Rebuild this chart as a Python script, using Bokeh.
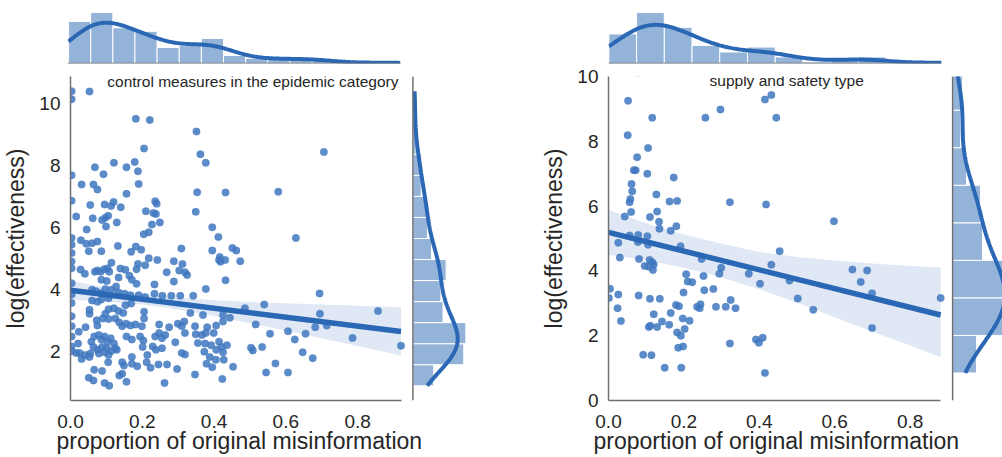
import numpy as np
from bokeh.plotting import figure
from bokeh.layouts import row, column
from bokeh.models import Span, Label, Title, FixedTicker, Range1d, NumeralTickFormatter
from bokeh.embed import file_html
from bokeh.resources import INLINE

# ---------------- data ----------------
left_x = [
    0.003, 0.003, 0.053, 0.182, 0.221, 0.205, 0.068, 0.121, 0.156, 0.179,
    0.188, 0.092, 0.003, 0.031, 0.064, 0.075, 0.190, 0.156, 0.003, 0.055,
    0.095, 0.113, 0.120, 0.140, 0.236, 0.240, 0.210, 0.231, 0.238, 0.016,
    0.062, 0.088, 0.097, 0.105, 0.129, 0.099, 0.227, 0.249, 0.045, 0.204,
    0.218, 0.003,
    0.351, 0.362, 0.377, 0.706, 0.353, 0.432, 0.579, 0.349, 0.395, 0.412, 0.628,
    0.029, 0.044, 0.060, 0.075, 0.051, 0.086, 0.132, 0.169, 0.182, 0.197,
    0.309, 0.218, 0.242, 0.188, 0.184, 0.208, 0.288, 0.312, 0.114, 0.103,
    0.094, 0.084, 0.108, 0.028, 0.040, 0.068, 0.075, 0.139, 0.153, 0.164,
    0.171, 0.086, 0.101, 0.134, 0.184, 0.234, 0.268, 0.288, 0.303, 0.319,
    0.060, 0.071, 0.086, 0.097, 0.114, 0.127, 0.134, 0.151, 0.167, 0.190,
    0.208, 0.234, 0.256, 0.281, 0.306, 0.060, 0.075, 0.086, 0.106, 0.153,
    0.169, 0.053, 0.053, 0.106, 0.121, 0.134, 0.147, 0.097, 0.090, 0.106,
    0.073, 0.075, 0.125, 0.136, 0.144, 0.155, 0.167, 0.181, 0.199, 0.205,
    0.205, 0.247, 0.275, 0.299, 0.310, 0.023, 0.042,
    0.058, 0.066, 0.079, 0.086, 0.095, 0.103, 0.112, 0.121, 0.125, 0.114,
    0.101, 0.088, 0.075, 0.064, 0.055, 0.079, 0.095, 0.106, 0.129, 0.040,
    0.025, 0.016, 0.031, 0.053, 0.021, 0.156, 0.171, 0.194, 0.203, 0.236,
    0.247, 0.255, 0.264, 0.201, 0.229, 0.238, 0.255, 0.292, 0.310, 0.319,
    0.171, 0.214, 0.212, 0.105, 0.144, 0.149, 0.171, 0.186, 0.223, 0.245,
    0.269, 0.297, 0.066, 0.088, 0.136, 0.144, 0.156, 0.051, 0.064, 0.095,
    0.108, 0.262,
    0.003, 0.003, 0.003, 0.003, 0.003, 0.003, 0.003, 0.003, 0.003, 0.003,
    0.003, 0.003,
    0.395, 0.451, 0.462, 0.416, 0.418, 0.431, 0.414, 0.473, 0.325, 0.432,
    0.377, 0.342, 0.694, 0.486, 0.540, 0.857, 0.695, 0.334, 0.369, 0.425,
    0.444, 0.516, 0.347, 0.381, 0.406, 0.425, 0.682, 0.714, 0.317, 0.319,
    0.349, 0.366, 0.377, 0.399, 0.556, 0.606, 0.655, 0.355, 0.375, 0.392,
    0.414, 0.436, 0.406, 0.421, 0.625, 0.786, 0.503, 0.508, 0.534, 0.373,
    0.425, 0.647, 0.388, 0.405, 0.427, 0.675, 0.379, 0.395, 0.453, 0.571,
    0.347, 0.423, 0.545, 0.606, 0.921,
]
left_y = [
    10.39, 10.13, 10.38, 9.50, 9.46, 8.54, 7.94, 8.08, 7.94, 8.11,
    7.81, 7.71, 7.68, 7.38, 7.38, 7.22, 7.40, 7.08, 6.86, 6.72,
    6.74, 6.69, 6.82, 6.65, 6.84, 6.76, 6.52, 6.46, 6.43, 6.35,
    6.29, 6.24, 6.31, 6.37, 6.16, 6.03, 6.09, 6.16, 5.93, 5.78,
    5.84, 5.66,
    9.09, 8.36, 8.08, 8.43, 7.13, 7.12, 7.15, 6.50, 6.00, 5.69, 5.66,
    5.58, 5.47, 5.49, 5.54, 5.23, 5.23, 5.40, 5.21, 5.38, 5.28,
    5.32, 5.00, 4.95, 4.82, 4.65, 4.78, 4.91, 4.82, 4.86, 4.67,
    4.65, 4.57, 4.57, 4.64, 4.50, 4.57, 4.61, 4.67, 4.63, 4.44,
    4.31, 4.31, 4.27, 4.38, 4.18, 4.16, 4.55, 4.25, 4.61, 4.55,
    3.99, 3.94, 3.88, 4.01, 3.99, 4.09, 3.90, 3.86, 3.81, 3.81,
    3.75, 3.86, 3.79, 3.79, 3.79, 3.64, 3.60, 3.67, 3.71, 3.49,
    3.54, 3.34, 3.21, 3.36, 3.39, 3.30, 3.24, 3.21, 3.06, 3.04,
    3.00, 2.83, 3.06, 2.93, 2.81, 2.89, 2.83, 2.87, 2.81, 3.06,
    3.28, 2.87, 2.78, 2.89, 2.81, 2.63, 2.78,
    2.31, 2.48, 2.53, 2.38, 2.48, 2.31, 2.42, 2.25, 2.10, 2.01,
    2.10, 2.14, 2.05, 2.14, 1.93, 1.93, 1.97, 1.88, 2.05, 1.88,
    1.95, 1.95, 1.75, 1.82, 2.25, 2.48, 2.38, 2.48, 2.35, 2.48,
    2.59, 2.42, 2.53, 2.14, 2.16, 2.05, 2.10, 2.29, 1.95, 1.90,
    1.82, 1.88, 1.65, 1.65, 1.65, 1.54, 1.60, 1.52, 1.47, 1.58,
    1.58, 1.43, 1.41, 1.37, 1.22, 1.28, 1.02, 1.15, 1.06, 0.98,
    0.89, 0.98,
    5.44, 5.17, 4.90, 4.68, 4.20, 3.83, 3.56, 3.13, 2.81, 2.48,
    2.16, 2.00,
    5.25, 5.33, 5.25, 5.04, 4.89, 4.95, 4.95, 4.91, 4.46, 4.29,
    4.01, 3.79, 3.87, 3.39, 3.51, 3.30, 3.21, 3.24, 3.17, 3.17,
    3.08, 2.87, 2.81, 2.78, 2.83, 2.96, 2.78, 2.83, 2.96, 2.59,
    2.55, 2.53, 2.59, 2.59, 2.57, 2.65, 2.57, 2.27, 2.25, 2.20,
    2.31, 2.20, 2.05, 2.14, 2.38, 2.43, 2.12, 2.03, 2.14, 1.99,
    1.97, 1.97, 1.82, 1.73, 1.73, 1.78, 1.60, 1.49, 1.50, 1.61,
    1.25, 1.11, 1.32, 1.32, 2.18,
]

right_x = [
    0.052, 0.116, 0.051, 0.105, 0.076, 0.067, 0.072, 0.103, 0.173, 0.061,
    0.063, 0.058, 0.056, 0.127, 0.162, 0.182, 0.322, 0.418, 0.060, 0.043,
    0.110, 0.129, 0.134, 0.135, 0.165, 0.180, 0.056, 0.079, 0.103, 0.026,
    0.078, 0.105, 0.191, 0.030, 0.081, 0.109, 0.116, 0.120, 0.096, 0.107,
    0.118, 0.247, 0.299, 0.294, 0.206, 0.252, 0.372, 0.432, 0.454, 0.210,
    0.222, 0.402, 0.004, 0.001, 0.026, 0.080, 0.110, 0.136, 0.199, 0.254,
    0.278, 0.024, 0.179, 0.187, 0.235, 0.244, 0.242, 0.285, 0.311, 0.324,
    0.337, 0.120, 0.165, 0.033, 0.197, 0.215, 0.142, 0.161, 0.111, 0.107,
    0.129, 0.202, 0.182, 0.192, 0.322, 0.391, 0.399, 0.409, 0.185, 0.198,
    0.092, 0.114, 0.149, 0.193, 0.415, 0.257, 0.297, 0.415, 0.432, 0.445,
    0.598, 0.480, 0.502, 0.543, 0.647, 0.686, 0.669, 0.699, 0.699, 0.881,
    0.080,
]
right_y = [
    9.25, 8.73, 8.19, 7.79, 7.51, 7.11, 7.11, 7.00, 6.88, 6.68,
    6.46, 6.22, 6.12, 6.36, 6.14, 6.16, 6.12, 6.05, 5.82, 5.68,
    5.66, 5.83, 5.52, 5.30, 5.24, 5.38, 5.09, 5.11, 5.07, 4.87,
    4.89, 4.81, 4.76, 4.41, 4.37, 4.34, 4.27, 4.20, 4.15, 4.13,
    4.03, 4.37, 4.10, 3.91, 3.90, 3.84, 3.91, 4.19, 4.61, 3.67,
    3.65, 3.60, 3.45, 3.16, 3.27, 3.24, 3.14, 3.14, 3.33, 3.40,
    3.44, 2.85, 2.95, 2.91, 2.89, 2.97, 2.85, 2.89, 2.89, 3.10,
    2.85, 2.66, 2.70, 2.45, 2.53, 2.46, 2.44, 2.34, 2.31, 2.27,
    2.27, 2.21, 2.10, 2.00, 1.76, 1.88, 1.78, 1.94, 1.63, 1.67,
    1.41, 1.40, 1.01, 1.01, 0.85, 8.73, 8.98, 9.29, 9.43, 8.73,
    5.53, 3.70, 3.15, 2.80, 4.04, 4.01, 3.66, 3.31, 2.24, 3.16,
    10.12,
]

# regression line and its 95% band
left_fit_x = [0.0, 0.921]
left_fit_y = [3.97, 2.64]
left_band_x = [0.0, 0.1, 0.2, 0.3, 0.4, 0.5, 0.6, 0.7, 0.8, 0.921]
left_band_hi = [4.28, 4.05, 3.86, 3.73, 3.65, 3.59, 3.55, 3.51, 3.47, 3.42]
left_band_lo = [3.67, 3.60, 3.51, 3.35, 3.14, 2.91, 2.67, 2.42, 2.17, 1.87]

right_fit_x = [0.0, 0.881]
right_fit_y = [5.19, 2.64]
right_band_x = [0.0, 0.1, 0.2, 0.3, 0.4, 0.5, 0.6, 0.7, 0.8, 0.881]
right_band_hi = [5.88, 5.47, 5.12, 4.84, 4.58, 4.43, 4.32, 4.23, 4.15, 4.11]
right_band_lo = [4.50, 4.33, 4.10, 3.80, 3.43, 3.02, 2.57, 2.12, 1.70, 1.34]

left_x_bins, left_y_bins = 15, 14
right_x_bins, right_y_bins = 12, 8
x_ticks = [0.0, 0.2, 0.4, 0.6, 0.8]
left_y_ticks = [2, 4, 6, 8, 10]
right_y_ticks = [0, 2, 4, 6, 8, 10]
right_y_limits = (0, 10)
x_label = "proportion of original misinformation"
y_label = "log(effectiveness)"
left_title = "control measures in the epidemic category"
right_title = "supply and safety type"

# ---------------- style ----------------
BLUE = "#2a67b4"
DOT = "#3f77c0"
AXIS = "#707070"
TXT = "#262626"
FONT = "Liberation Sans"
FRAME_W = 333   # width of the scatter area in px
GAP = 12        # gap between scatter area and right marginal


def kde_curve(data, lo, hi, n_grid=250):
    d = np.asarray(data, float)
    bw = d.std(ddof=1) * len(d) ** (-0.2)
    g = np.linspace(lo, hi, n_grid)
    dens = np.exp(-0.5 * ((g[:, None] - d[None, :]) / bw) ** 2).sum(1)
    dens /= len(d) * bw * np.sqrt(2 * np.pi)
    return g, dens


def marg(data, nbins):
    d = np.asarray(data, float)
    counts, edges = np.histogram(d, bins=nbins, range=(d.min(), d.max()))
    g, dens = kde_curve(d, d.min(), d.max())
    kc = dens * len(d) * (edges[1] - edges[0])
    return counts, edges, g, kc


def style_axes(p):
    for ax in (p.xaxis[0], p.yaxis[0]):
        ax.axis_line_color = AXIS
        ax.axis_line_width = 1.5
        ax.major_tick_line_color = None
        ax.minor_tick_line_color = None
        ax.major_tick_out = 0
        ax.major_tick_in = 0
        ax.minor_tick_out = 0
        ax.minor_tick_in = 0
        ax.major_label_text_font = FONT
        ax.major_label_text_font_size = "19px"
        ax.major_label_text_color = TXT
        ax.axis_label_text_font = FONT
        ax.axis_label_text_font_size = "23px"
        ax.axis_label_text_font_style = "normal"
        ax.axis_label_text_color = TXT
    p.xaxis[0].major_label_standoff = 14
    p.yaxis[0].major_label_standoff = 10
    p.yaxis[0].axis_label_standoff = 7


def build(xs, ys, xb, yb, yr, yticks, fit_x, fit_y, band_x, band_lo, band_hi,
          title, title_xy, title_align, bl, main_top, frame_h, side_w, side_end_frac,
          total_w, xlabel_shift):
    xmax = max(xs)
    wide_w = FRAME_W + GAP + side_w               # frame = scatter + gap + marginal
    border_r = total_w - bl - wide_w
    height = 392
    yrange = Range1d(*yr)

    # ---- bottom figure: scatter + right marginal share one frame ----
    main = figure(width=total_w, height=height,
                  x_range=Range1d(0, xmax * wide_w / FRAME_W), y_range=yrange,
                  output_backend="svg", toolbar_location=None,
                  min_border_left=bl, min_border_right=border_r,
                  min_border_top=main_top, min_border_bottom=height - main_top - frame_h)
    main.outline_line_color = None
    main.grid.visible = False
    style_axes(main)
    main.xaxis.bounds = (0, xmax)
    main.xaxis.ticker = FixedTicker(ticks=x_ticks)
    main.xaxis.formatter = NumeralTickFormatter(format="0.0")
    main.yaxis.ticker = FixedTicker(ticks=yticks)
    main.yaxis.axis_label = y_label

    main.varea(x=band_x, y1=band_lo, y2=band_hi, fill_color=BLUE, fill_alpha=0.15)
    main.scatter(xs, ys, marker="circle", size=7.5, fill_color=DOT,
                 fill_alpha=0.85, line_color=DOT, line_alpha=0.5, line_width=0.5)
    main.line(fit_x, fit_y, line_color=BLUE, line_width=5.5)
    main.add_layout(Label(x=title_xy[0], y=title_xy[1], text=title,
                          text_font=FONT, text_font_size="15.5px",
                          text_color=TXT, text_align=title_align,
                          text_baseline="middle"))
    # x-axis label under the scatter area only (the axis' own label would be
    # centred on the whole frame, which also holds the right marginal)
    main.add_layout(Title(text=x_label, align="left", offset=xlabel_shift,
                          vertical_align="top", standoff=-6,
                          text_font=FONT, text_font_size="23px",
                          text_font_style="normal", text_color=TXT), "below")

    # right marginal on its own x range, mapped onto the last side_w px of the frame
    counts, edges, kg, kc = marg(ys, yb)
    s_end = 1.05 * max(counts.max(), kc.max()) * side_end_frac
    off = FRAME_W + GAP
    s_start = -off / (wide_w - off) * s_end
    main.extra_x_ranges = {"side": Range1d(s_start, s_end)}
    main.quad(left=0, right=counts, bottom=edges[:-1], top=edges[1:],
              fill_color=BLUE, fill_alpha=0.5, line_color="white", line_width=1,
              x_range_name="side")
    main.line(kc, kg, line_color=BLUE, line_width=4, x_range_name="side")
    main.add_layout(Span(location=0, dimension="height", line_color=AXIS,
                         line_width=1.5, x_range_name="side"))

    # ---- top marginal ----
    counts, edges, kg, kc = marg(xs, xb)
    ymax = 1.04 * max(counts.max(), kc.max())
    top = figure(width=total_w, height=65, x_range=Range1d(0, xmax),
                 y_range=Range1d(0, ymax),
                 output_backend="svg", toolbar_location=None,
                 x_axis_location=None, y_axis_location=None,
                 min_border_left=bl, min_border_right=total_w - bl - FRAME_W,
                 min_border_top=10, min_border_bottom=2)
    top.outline_line_color = None
    top.grid.visible = False
    top.quad(left=edges[:-1], right=edges[1:], bottom=0, top=counts,
             fill_color=BLUE, fill_alpha=0.5, line_color="white", line_width=1)
    top.line(kg, kc, line_color=BLUE, line_width=4)
    top.add_layout(Span(location=0, dimension="width", line_color=AXIS, line_width=1.5))
    return top, main


ly = np.asarray(left_y)
lpad = 0.05 * (ly.max() - ly.min())
left_yr = (ly.min() - lpad, ly.max() + lpad)

topL, mainL = build(left_x, left_y, left_x_bins, left_y_bins, left_yr,
                    left_y_ticks, left_fit_x, left_fit_y, left_band_x,
                    left_band_lo, left_band_hi, left_title, (0.914, 10.70),
                    "right", 67, 10, 325, 56, 1.0, 530, -14)
topR, mainR = build(right_x, right_y, right_x_bins, right_y_bins, right_y_limits,
                    right_y_ticks, right_fit_x, right_fit_y, right_band_x,
                    right_band_lo, right_band_hi, right_title, (0.268, 9.88),
                    "left", 78, 11, 324, 50, 0.82, 472, -15)

layout = column(row(topL, topR), row(mainL, mainR))
open("out.html", "w").write(file_html(layout, INLINE))
